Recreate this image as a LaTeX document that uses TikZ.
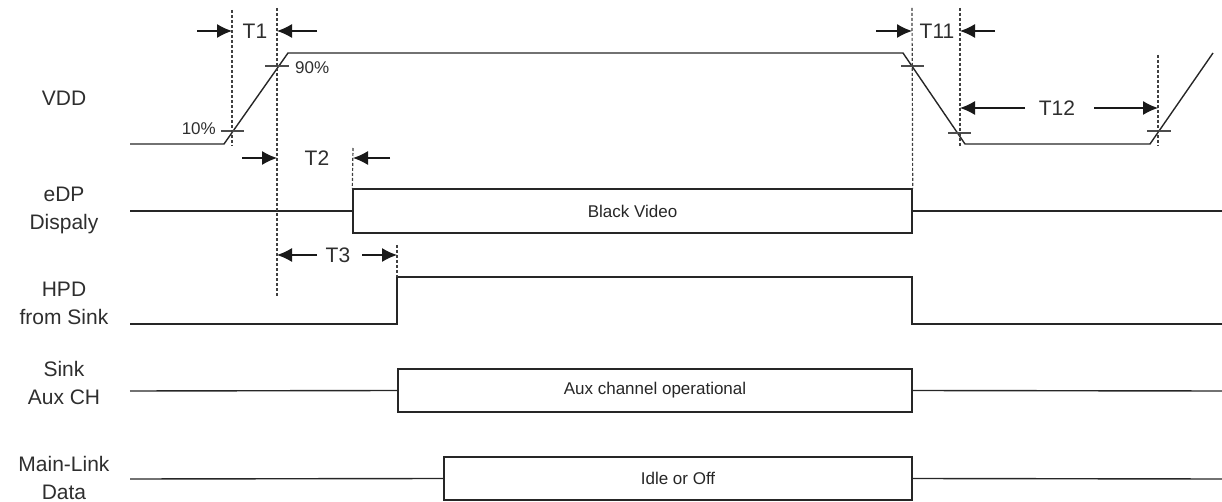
\documentclass[tikz,border=0pt]{standalone}
\usepackage{fontspec}
\setmainfont{Liberation Sans}
\usetikzlibrary{arrows.meta}
\begin{document}
\begin{tikzpicture}[x=1bp,y=-1bp,
  sig/.style={line width=1.4bp, draw=black!85},
  vguide/.style={line width=1.2bp, draw=black!75, dash pattern=on 3bp off 2bp},
  tickm/.style={line width=1.1bp, draw=black!70},
  dim/.style={line width=1.2bp, draw=black!90, -{Latex[length=15bp,width=14bp]}},
  lbl/.style={font=\fontsize{21bp}{28bp}\selectfont, align=center, text=black!82},
  tl/.style={font=\fontsize{21bp}{25bp}\selectfont, text=black!82, inner sep=0pt},
  pct/.style={font=\fontsize{17bp}{20bp}\selectfont, text=black!82, inner sep=0pt},
  sbox/.style={draw=black!85, line width=1.4bp, font=\fontsize{17bp}{20bp}\selectfont, text=black!85, inner sep=0pt},
]
\useasboundingbox (0,0) rectangle (1222,502);

% signal labels
\node[lbl] (lvdd) at (64,98) {VDD};
\node[lbl] (ledp) at (64,210.5) {eDP\\Dispaly};
\node[lbl] (lhpd) at (64,303) {HPD\\from Sink};
\node[lbl] (laux) at (64,382.5) {Sink\\Aux CH};
\node[lbl] (lml) at (64,477.5) {Main-Link\\Data};

% VDD waveform
\coordinate (v0) at (130,144);
\coordinate (v1) at (224,144);
\coordinate (v2) at (288,53);
\coordinate (v3) at (903,53);
\coordinate (v4) at (965,144);
\coordinate (v5) at (1150,144);
\coordinate (v6) at (1213,53);
\draw[sig] (v0) -- (v1) -- (v2) -- (v3) -- (v4) -- (v5) -- (v6);

% ticks
\draw[tickm] (221,131) -- (244,131);
\draw[tickm] (265,66) -- (289,66);
\draw[tickm] (901,66) -- (924,66);
\draw[tickm] (948,133) -- (971,133);
\draw[tickm] (1147,131) -- (1171,131);
\node[pct, anchor=east] (p10) at (216,129) {10\%};
\node[pct, anchor=west] (p90) at (295,68) {90\%};

% boxes
\node[sbox, minimum width=559bp, minimum height=44bp] (bv) at (632.5,211) {Black Video};
\node[sbox, minimum width=514bp, minimum height=43bp] (ax) at (655,390.5) {Aux channel operational};
\node[sbox, minimum width=468bp, minimum height=43bp] (ml) at (678,478.5) {Idle or Off};

% other signals
\draw[sig] (130,211) -- (bv.west);
\draw[sig] (bv.east) -- (1222,211);
\coordinate (h0) at (130,324);
\coordinate (h1) at (397,324);
\coordinate (h2) at (397,277);
\coordinate (h3) at (912,277);
\coordinate (h4) at (912,324);
\coordinate (h5) at (1222,324);
\draw[sig] (h0) -- (h1) -- (h2) -- (h3) -- (h4) -- (h5);
\draw[sig] (130,391) -- (ax.west);
\draw[sig] (ax.east) -- (1222,391);
\draw[sig] (130,479) -- (ml.west);
\draw[sig] (ml.east) -- (1222,479);

% guides
\draw[vguide] (232,10) -- (232,146);
\draw[vguide] (277,8) -- (277,298);
\draw[vguide] (353,148) -- (bv.north west);
\draw[vguide] (397,245) -- (h2);
\draw[vguide] (912,8) -- (bv.north east);
\draw[vguide] (960,8) -- (960,146);
\draw[vguide] (1158,55) -- (1158,146);

% dimension labels and arrows
\node[tl] (t1) at (255,31) {T1};
\draw[dim] (197,31) -- (232,31);
\draw[dim] (317,31) -- (277,31);
\node[tl] (t2) at (317,158) {T2};
\draw[dim] (242,158) -- (277,158);
\draw[dim] (390,158) -- (353,158);
\node[tl] (t3) at (338,255) {T3};
\draw[dim] (317,255) -- (277,255);
\draw[dim] (362,255) -- (397,255);
\node[tl] (t11) at (937,31) {T11};
\draw[dim] (876,31) -- (912,31);
\draw[dim] (995,31) -- (960,31);
\node[tl] (t12) at (1057,108) {T12};
\draw[dim] (1025,108) -- (960,108);
\draw[dim] (1094,108) -- (1158,108);
\end{tikzpicture}
\end{document}
